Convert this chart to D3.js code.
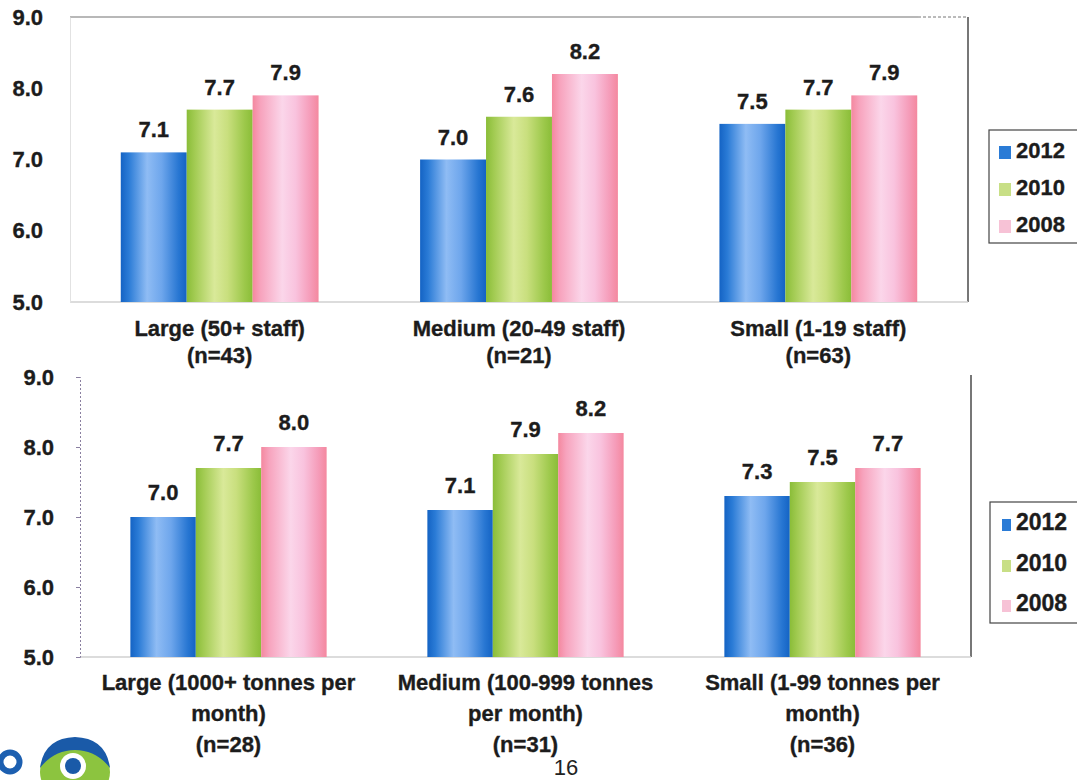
<!DOCTYPE html>
<html>
<head>
<meta charset="utf-8">
<script src="https://cdn.jsdelivr.net/npm/d3@7"></script>
<style>
  html, body { margin: 0; padding: 0; background: #fff; }
  svg { display: block; }
  text { font-family: "Liberation Sans", Arial, sans-serif; }
  .heavy { stroke: #1c1c1c; stroke-width: 0.35px; }
</style>
</head>
<body>
<svg id="chart" width="1077" height="780"></svg>
<script>
// Series (survey years) and their colours
const seriesNames = ["2012", "2010", "2008"];

// Panel 1: by number of staff
const staffCategories = [
  ["Large (50+ staff)", "(n=43)"],
  ["Medium (20-49 staff)", "(n=21)"],
  ["Small (1-19 staff)", "(n=63)"]
];
const staff2012 = [7.1, 7.0, 7.5];
const staff2010 = [7.7, 7.6, 7.7];
const staff2008 = [7.9, 8.2, 7.9];

// Panel 2: by monthly tonnage
const tonnageCategories = [
  ["Large (1000+ tonnes per", "month)", "(n=28)"],
  ["Medium (100-999 tonnes", "per month)", "(n=31)"],
  ["Small (1-99 tonnes per", "month)", "(n=36)"]
];
const tonnage2012 = [7.0, 7.1, 7.3];
const tonnage2010 = [7.7, 7.9, 7.5];
const tonnage2008 = [8.0, 8.2, 7.7];

const yTicks = [5, 6, 7, 8, 9];
const pageNumber = "16";

const svg = d3.select("#chart");
const defs = svg.append("defs");

// Cylinder-style horizontal gradients for the bars
const gradientStops = {
  "2012": [["0%", "#1463c4"], ["12%", "#2a7bd6"], ["40%", "#8fbcf4"], ["62%", "#6ea6ec"], ["88%", "#2776d2"], ["100%", "#1463c4"]],
  "2010": [["0%", "#8abd38"], ["12%", "#a2cb52"], ["42%", "#d9e999"], ["62%", "#c9df7e"], ["88%", "#9cc84a"], ["100%", "#8abd38"]],
  "2008": [["0%", "#f4889f"], ["12%", "#f7a3bd"], ["45%", "#fbd6ea"], ["65%", "#f9c3de"], ["88%", "#f59bb8"], ["100%", "#f4889f"]]
};
const legendFill = { "2012": "#2a7bd6", "2010": "#c8df86", "2008": "#f7c2d6" };

seriesNames.forEach(s => {
  const g = defs.append("linearGradient")
    .attr("id", "grad" + s)
    .attr("x1", "0%").attr("x2", "100%").attr("y1", "0%").attr("y2", "0%");
  gradientStops[s].forEach(([o, c]) => g.append("stop").attr("offset", o).attr("stop-color", c));
});

function drawPanel(opts) {
  const { categories, values, xRange, yRange, tickPad, lineGap, labelTop, leftStyle, frameTop, valueGap } = opts;

  const x0 = d3.scaleBand().domain(d3.range(categories.length)).range(xRange).padding(0);
  const x1 = d3.scaleBand().domain(seriesNames).range([0, x0.bandwidth()]).paddingInner(0).paddingOuter(0.77);
  const y = d3.scaleLinear().domain([5, 9]).range(yRange);

  const g = svg.append("g");

  // Frame: optional top line and dark right border
  if (frameTop) {
    g.append("line")
      .attr("x1", xRange[0]).attr("x2", xRange[1] - 50)
      .attr("y1", y(9)).attr("y2", y(9))
      .attr("stroke", "#b8b8b8").attr("stroke-width", 2);
    g.append("line")
      .attr("x1", xRange[1] - 50).attr("x2", xRange[1])
      .attr("y1", y(9)).attr("y2", y(9))
      .attr("stroke", "#777").attr("stroke-width", 1).attr("stroke-dasharray", "3,2");
  }
  g.append("line")
    .attr("x1", xRange[1]).attr("x2", xRange[1])
    .attr("y1", y(9) - (frameTop ? 0 : 2)).attr("y2", y(5))
    .attr("stroke", "#4a4a4a").attr("stroke-width", 1.5);

  // Baseline
  g.append("line")
    .attr("x1", xRange[0]).attr("x2", xRange[1])
    .attr("y1", y(5)).attr("y2", y(5))
    .attr("stroke", "#d0d0d0").attr("stroke-width", 1.5);

  // Y axis
  const yAxis = d3.axisLeft(y).tickValues(yTicks)
    .tickFormat(d3.format(".1f"))
    .tickSize(leftStyle.tickSize).tickPadding(tickPad);
  const ya = g.append("g").attr("transform", `translate(${xRange[0]},0)`).call(yAxis);
  ya.select(".domain")
    .attr("stroke", leftStyle.color)
    .attr("stroke-dasharray", leftStyle.dash)
    .attr("stroke-width", 1);
  ya.selectAll(".tick line").attr("stroke", leftStyle.color);
  ya.selectAll(".tick text")
    .attr("class", "heavy")
    .attr("fill", "#1c1c1c").attr("font-size", 22).attr("font-weight", "bold")
    .attr("font-family", "'Liberation Sans', Arial, sans-serif");

  // Bars
  const rows = categories.map((c, i) => seriesNames.map((s, j) => ({ cat: i, series: s, value: values[j][i] })));
  const groups = g.selectAll(".grp").data(rows).join("g")
    .attr("transform", (d, i) => `translate(${x0(i)},0)`);

  groups.selectAll("rect").data(d => d).join("rect")
    .attr("x", d => x1(d.series))
    .attr("width", x1.bandwidth())
    .attr("y", d => y(d.value))
    .attr("height", d => y(5) - y(d.value))
    .attr("fill", d => `url(#grad${d.series})`);

  // Value labels
  groups.selectAll("text.val").data(d => d).join("text")
    .attr("class", "val heavy")
    .attr("x", d => x1(d.series) + x1.bandwidth() / 2)
    .attr("y", d => y(d.value) - valueGap)
    .attr("text-anchor", "middle")
    .attr("font-size", 22).attr("font-weight", "bold").attr("fill", "#1c1c1c")
    .text(d => d3.format(".1f")(d.value));

  // Category labels (multi-line)
  const cl = g.selectAll("text.cat").data(categories).join("text")
    .attr("class", "cat heavy")
    .attr("text-anchor", "middle")
    .attr("font-size", 22).attr("font-weight", "bold").attr("fill", "#1c1c1c")
    .attr("x", (d, i) => x0(i) + x0.bandwidth() / 2)
    .attr("y", labelTop);
  cl.selectAll("tspan").data(d => d).join("tspan")
    .attr("x", function () { return d3.select(this.parentNode).attr("x"); })
    .attr("dy", (d, i) => i === 0 ? 0 : lineGap)
    .text(d => d);
}

drawPanel({
  categories: staffCategories,
  values: [staff2012, staff2010, staff2008],
  xRange: [70, 968],
  yRange: [302, 17],
  tickPad: 27,
  lineGap: 27,
  labelTop: 336,
  valueGap: 15,
  frameTop: true,
  leftStyle: { color: "#e2e2e2", dash: null, tickSize: 0 }
});

drawPanel({
  categories: tonnageCategories,
  values: [tonnage2012, tonnage2010, tonnage2008],
  xRange: [80, 971],
  yRange: [657, 377],
  tickPad: 22,
  lineGap: 31,
  labelTop: 690,
  valueGap: 17,
  frameTop: false,
  leftStyle: { color: "#8a7fa0", dash: "2,2", tickSize: 4 }
});

// Legends
function drawLegend(box, rowYs, sw, fontSize) {
  const lg = svg.append("g");
  lg.append("rect")
    .attr("x", box.x).attr("y", box.y).attr("width", box.w).attr("height", box.h)
    .attr("fill", "#fff").attr("stroke", "#444").attr("stroke-width", 1.2);
  seriesNames.forEach((s, i) => {
    lg.append("rect")
      .attr("x", sw.x).attr("y", rowYs[i] - sw.h + 1)
      .attr("width", sw.w).attr("height", sw.h)
      .attr("fill", legendFill[s]);
    lg.append("text")
      .attr("class", "heavy")
      .attr("x", sw.x + sw.w + 5).attr("y", rowYs[i])
      .attr("font-size", fontSize).attr("font-weight", "bold").attr("fill", "#1c1c1c")
      .text(s);
  });
}
drawLegend({ x: 989, y: 130, w: 95, h: 113 }, [158, 195, 232], { x: 999, w: 12, h: 13 }, 22);
drawLegend({ x: 990, y: 502, w: 95, h: 121 }, [530, 571, 611], { x: 1002, w: 9, h: 12 }, 23);

// Page number
svg.append("text")
  .attr("x", 566).attr("y", 775)
  .attr("text-anchor", "middle")
  .attr("font-size", 22).attr("fill", "#222")
  .text(pageNumber);

// Organisation mark, bottom-left corner
const logo = svg.append("g");
logo.append("circle").attr("cx", 10).attr("cy", 762).attr("r", 9.5)
  .attr("fill", "none").attr("stroke", "#1c5fb0").attr("stroke-width", 6);
logo.append("ellipse").attr("cx", 75).attr("cy", 772).attr("rx", 35).attr("ry", 30).attr("fill", "#8cc43f");
logo.append("path")
  .attr("d", "M40,768 Q44,738 75,737 Q106,738 110,768 Q96,750 75,750 Q54,750 40,768 Z")
  .attr("fill", "#1a5aa8");
logo.append("circle").attr("cx", 73).attr("cy", 766).attr("r", 13).attr("fill", "#fff");
logo.append("circle").attr("cx", 73).attr("cy", 766).attr("r", 8).attr("fill", "#1a5aa8");
</script>
</body>
</html>
